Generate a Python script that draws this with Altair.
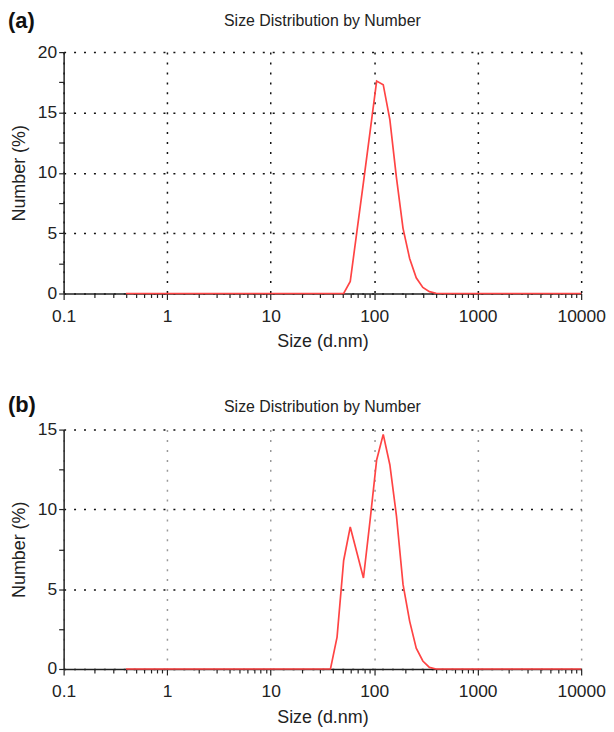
import altair as alt
import pandas as pd

# ---- data ----
size_a = [0.4, 10.1, 43.82, 50.75, 58.77, 68.06, 78.82, 91.28, 105.7, 122.4, 141.8,
          164.2, 190.1, 220.2, 255.0, 295.3, 342.0, 396.1, 458.7, 10000]
number_a = [0, 0, 0, 0, 1.0, 5.1, 9.2, 13.4, 17.6, 17.3, 14.4,
            9.6, 5.4, 2.9, 1.3, 0.5, 0.15, 0.02, 0, 0]

size_b = [0.4, 10.1, 32.67, 37.84, 43.82, 50.75, 58.77, 68.06, 78.82, 91.28, 105.7,
          122.4, 141.8, 164.2, 190.1, 220.2, 255.0, 295.3, 342.0, 396.1, 458.7, 10000]
number_b = [0, 0, 0, 0, 2.0, 6.8, 8.9, 7.3, 5.7, 9.3, 13.1,
            14.7, 12.8, 9.6, 5.3, 3.0, 1.3, 0.5, 0.1, 0, 0, 0]

x_major = [0.1, 1, 10, 100, 1000, 10000]
x_minor = [d * m for d in [0.1, 1, 10, 100, 1000] for m in [2, 3, 4, 5, 6, 7, 8, 9]]
y_ticks_a = [0, 2.5, 5, 7.5, 10, 12.5, 15, 17.5, 20]
y_ticks_b = [0, 2.5, 5, 7.5, 10, 12.5, 15]

TITLE = "Size Distribution by Number"
XTITLE = "Size (d.nm)"
YTITLE = "Number (%)"

FONT = "Liberation Sans"
RED = "#ff4444"
INK = "#222222"
W = 521

DECADE = "abs(log(datum.value)/LN10 - round(log(datum.value)/LN10)) < 1e-6"
FIVE = "abs(datum.value % 5) < 1e-6"


def panel(sizes, values, ymax, yticks, label, xgrid_color, height, title_y, label_y):
    df = pd.DataFrame({"size": sizes, "number": values})
    x = alt.X(
        "size:Q",
        scale=alt.Scale(type="log", domain=[0.1, 10000], nice=False),
        axis=alt.Axis(
            title=XTITLE,
            values=sorted(x_major + x_minor),
            format="~g",
            labelExpr=DECADE + " ? datum.label : ''",
            tickSize={"condition": {"test": DECADE, "value": 6}, "value": 4},
            gridOpacity={"condition": {"test": DECADE, "value": 1}, "value": 0},
            grid=True,
            gridColor=xgrid_color,
            gridDash=[2, 8],
            gridWidth=1.5,
            labelPadding=8,
            titlePadding=8,
            labelFlush=False,
            labelOverlap=False,
        ),
    )
    y = alt.Y(
        "number:Q",
        scale=alt.Scale(domain=[0, ymax], nice=False, zero=True),
        axis=alt.Axis(
            title=YTITLE,
            values=yticks,
            labelExpr=FIVE + " ? datum.label : ''",
            tickSize=5,
            grid=True,
            gridColor="#111111",
            gridDash=[2, 8],
            gridWidth=1.5,
            gridOpacity={"condition": {"test": FIVE, "value": 1}, "value": 0},
            labelPadding=2,
            titlePadding=9,
            labelOverlap=False,
        ),
    )
    line = alt.Chart(df).mark_line(color=RED, strokeWidth=1.7).encode(x=x, y=y)
    tag = alt.Chart(pd.DataFrame({"t": [label]})).mark_text(
        align="left", baseline="top", fontSize=22, fontWeight="bold", font=FONT, color="#111111"
    ).encode(text="t:N", x=alt.value(-56), y=alt.value(label_y))
    ttl = alt.Chart(pd.DataFrame({"t": [TITLE]})).mark_text(
        align="center", baseline="middle", fontSize=16, font=FONT, color=INK
    ).encode(text="t:N", x=alt.value(W / 2), y=alt.value(title_y))
    return alt.layer(line, tag, ttl).properties(width=W, height=height)


pa = panel(size_a, number_a, 20, y_ticks_a, "(a)", "#111111", 243, -31, -41)
pb = panel(size_b, number_b, 15, y_ticks_b, "(b)", "#999999", 241, -23, -35)

chart = (
    alt.vconcat(pa, pb, spacing=43)
    .properties(padding=0)
    .configure_view(stroke=None)
    .configure_axis(
        labelFont=FONT, labelFontSize=17.5, labelColor=INK,
        titleFont=FONT, titleFontSize=18, titleFontWeight="normal", titleColor=INK,
        domainColor=INK, domainWidth=1.5, tickColor=INK, tickWidth=1.2,
    )
)

chart.save("out.html", embed_options={"renderer": "svg", "actions": False})
